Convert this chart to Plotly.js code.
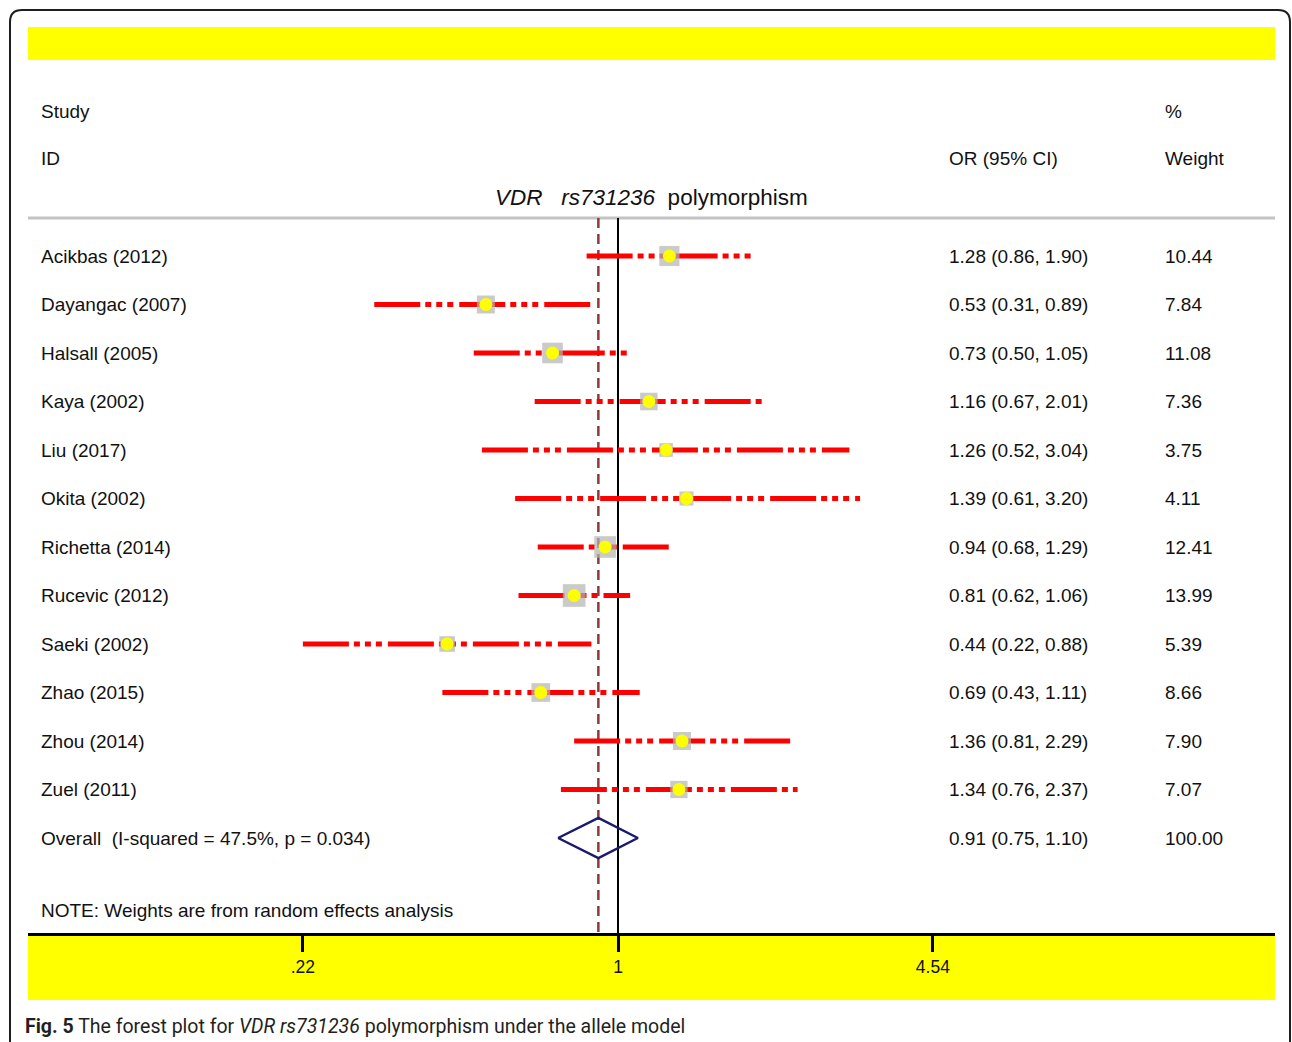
<!DOCTYPE html>
<html>
<head>
<meta charset="utf-8">
<script src="https://cdn.plot.ly/plotly-3.0.1.min.js"></script>
<style>
  html, body { margin: 0; padding: 0; background: #ffffff; }
  #chart { width: 1292px; height: 1042px; }
</style>
</head>
<body>
<div id="chart"></div>
<script>
// ---------------- data ----------------
const studies = ["Acikbas (2012)", "Dayangac (2007)", "Halsall (2005)", "Kaya (2002)", "Liu (2017)",
  "Okita (2002)", "Richetta (2014)", "Rucevic (2012)", "Saeki (2002)", "Zhao (2015)", "Zhou (2014)", "Zuel (2011)"];
const orValues = [1.28, 0.53, 0.73, 1.16, 1.26, 1.39, 0.94, 0.81, 0.44, 0.69, 1.36, 1.34];
const ciLower  = [0.86, 0.31, 0.50, 0.67, 0.52, 0.61, 0.68, 0.62, 0.22, 0.43, 0.81, 0.76];
const ciUpper  = [1.90, 0.89, 1.05, 2.01, 3.04, 3.20, 1.29, 1.06, 0.88, 1.11, 2.29, 2.37];
const weights  = [10.44, 7.84, 11.08, 7.36, 3.75, 4.11, 12.41, 13.99, 5.39, 8.66, 7.90, 7.07];

const overallLabel = "Overall&nbsp;&nbsp;(I-squared = 47.5%, p = 0.034)";
const overallOR = 0.91;
const overallLower = 0.75;
const overallUpper = 1.10;
const overallWeight = 100.00;

const nullValue = 1;
const tickValues = [0.22, 1, 4.54];
const tickLabels = [".22", "1", "4.54"];

// ---------------- layout helpers ----------------
const W = 1292, H = 1042;
const PL = 28, PR = 1275, PT = 27, PB = 933;
const pxPerDecade = 479.2, xOnePx = 618;
const rowPx0 = 256, rowStep = 48.5;
const px = p => (p - PL) / (PR - PL);
const py = p => (PB - p) / (PB - PT);
const rowOf = p => 1 + (p - rowPx0) / rowStep;

const rows = studies.map((_, i) => i + 1);
const overallRow = studies.length + 1;

const FONT = "Liberation Sans, Arial, sans-serif";
const TXT = "#111111";
const FS = 19;

const traces = [];

// vertical reference lines
const vTop = rowOf(218), vBot = rowOf(PB);
traces.push({x: [nullValue, nullValue], y: [vTop, vBot], mode: "lines",
  line: {color: "#000000", width: 2}, hoverinfo: "skip", showlegend: false});
traces.push({x: [overallOR, overallOR], y: [vTop, vBot], mode: "lines",
  line: {color: "#8f3a3a", width: 2.5, dash: "10px,6px"}, hoverinfo: "skip", showlegend: false});

// CI lines
studies.forEach((s, i) => {
  traces.push({x: [ciLower[i], ciUpper[i]], y: [rows[i], rows[i]], mode: "lines",
    line: {color: "#ff0000", width: 5, dash: "46px,5px,6px,5px,6px,5px,6px,6px"},
    hoverinfo: "skip", showlegend: false});
});

// weight boxes
traces.push({x: orValues, y: rows, mode: "markers",
  marker: {symbol: "square", size: weights.map(w => 5 * Math.sqrt(w) + 4), color: "#b4b4b4", line: {width: 0}},
  hoverinfo: "skip", showlegend: false});
// point estimates
traces.push({x: orValues, y: rows, mode: "markers",
  marker: {symbol: "circle", size: 13, color: "#ffff00", line: {width: 0}},
  hoverinfo: "skip", showlegend: false});

// overall diamond
const dh = 20 / rowStep;
traces.push({x: [overallLower, overallOR, overallUpper, overallOR, overallLower],
  y: [overallRow, overallRow - dh, overallRow, overallRow + dh, overallRow],
  mode: "lines", line: {color: "#1a1a6e", width: 2.5}, hoverinfo: "skip", showlegend: false});

// ---------------- annotations ----------------
const ann = [];
const addText = (text, xp, yval, yref, opts = {}) => {
  ann.push(Object.assign({text: text, x: xp, y: yval, xref: "paper", yref: yref,
    xanchor: "left", yanchor: "middle", showarrow: false,
    font: {family: FONT, size: FS, color: TXT}}, opts));
};

addText("Study", px(39), py(111), "paper");
addText("ID", px(39), py(159), "paper");
addText("OR (95% CI)", px(947), py(159), "paper");
addText("%", px(1163), py(111), "paper");
addText("Weight", px(1163), py(159), "paper");
addText("<i>VDR</i>&nbsp;&nbsp;&nbsp;<i>rs731236</i>&nbsp;&nbsp;polymorphism", px(651), py(198), "paper",
  {xanchor: "center", font: {family: FONT, size: 22.5, color: TXT}});

studies.forEach((s, i) => {
  addText(s, px(39), rows[i], "y");
  addText(orValues[i].toFixed(2) + " (" + ciLower[i].toFixed(2) + ", " + ciUpper[i].toFixed(2) + ")", px(947), rows[i], "y");
  addText(weights[i].toFixed(2), px(1163), rows[i], "y");
});
addText(overallLabel, px(39), overallRow, "y");
addText(overallOR.toFixed(2) + " (" + overallLower.toFixed(2) + ", " + overallUpper.toFixed(2) + ")", px(947), overallRow, "y");
addText(overallWeight.toFixed(2), px(1163), overallRow, "y");

addText("NOTE: Weights are from random effects analysis", px(39), py(910), "paper");

addText("<b>Fig. 5</b> The forest plot for <i>VDR rs731236</i> polymorphism under the allele model",
  px(23), py(1026), "paper", {font: {family: "Roboto, Open Sans, sans-serif", size: 19.5, color: "#231f20"}});

// ---------------- shapes ----------------
const r = 12;
const bx0 = px(10), bx1 = px(1290), by0 = py(10), byB = py(1060);
const cx = v => px(v), cy = v => py(v);
const borderPath = "M " + bx0 + "," + byB +
  " L " + bx0 + "," + cy(10 + r) +
  " Q " + bx0 + "," + by0 + " " + cx(10 + r) + "," + by0 +
  " L " + cx(1290 - r) + "," + by0 +
  " Q " + bx1 + "," + by0 + " " + bx1 + "," + cy(10 + r) +
  " L " + bx1 + "," + byB;

const shapes = [
  {type: "rect", xref: "paper", yref: "paper", x0: 0, x1: 1, y0: py(60), y1: py(27),
    fillcolor: "#ffff00", line: {width: 0}, layer: "below"},
  {type: "rect", xref: "paper", yref: "paper", x0: 0, x1: 1, y0: py(1000), y1: py(933),
    fillcolor: "#ffff00", line: {width: 0}, layer: "below"},
  {type: "line", xref: "paper", yref: "paper", x0: 0, x1: 1, y0: py(218), y1: py(218),
    line: {color: "#c3c3c3", width: 3}, layer: "below"},
  {type: "path", xref: "paper", yref: "paper", path: borderPath,
    line: {color: "#1e1e1e", width: 2}, layer: "above"}
];

const layout = {
  width: W, height: H,
  margin: {l: PL, r: W - PR, t: PT, b: H - PB, pad: 0},
  paper_bgcolor: "#ffffff",
  plot_bgcolor: "rgba(0,0,0,0)",
  showlegend: false,
  hovermode: false,
  xaxis: {
    type: "log",
    range: [(PL - xOnePx) / pxPerDecade, (PR - xOnePx) / pxPerDecade],
    tickmode: "array", tickvals: tickValues, ticktext: tickLabels,
    ticks: "outside", ticklen: 16, tickwidth: 3, tickcolor: "#000000",
    showline: true, linewidth: 3, linecolor: "#000000",
    showgrid: false, zeroline: false,
    tickfont: {family: FONT, size: 17.5, color: TXT},
    fixedrange: true
  },
  yaxis: {
    range: [rowOf(PB), rowOf(PT)],
    visible: false, showgrid: false, zeroline: false, fixedrange: true
  },
  annotations: ann,
  shapes: shapes
};

Plotly.newPlot("chart", traces, layout, {displayModeBar: false, staticPlot: true});
</script>
</body>
</html>
